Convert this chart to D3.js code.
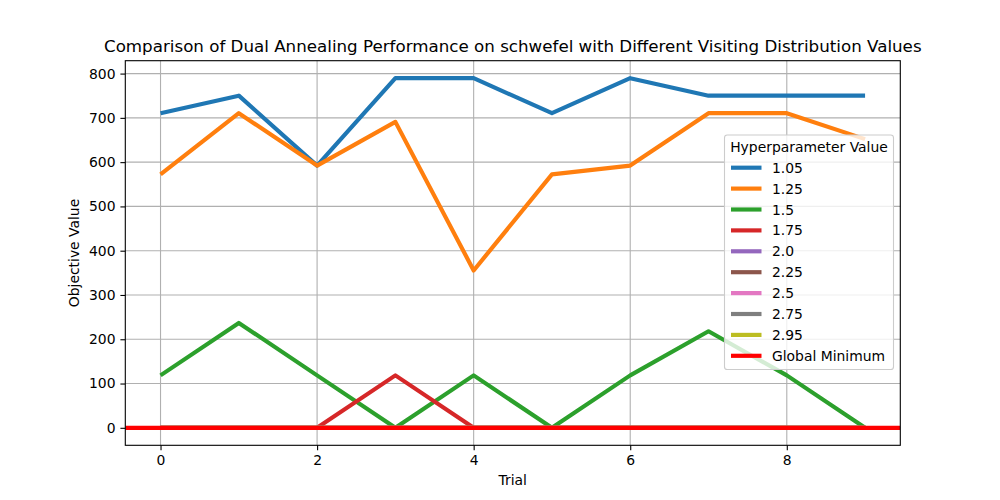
<!DOCTYPE html>
<html><head><meta charset="utf-8">
<script src="https://cdn.jsdelivr.net/npm/d3@7"></script>
<style>body{margin:0;background:#fff}svg{font-family:"DejaVu Sans",sans-serif}</style>
</head><body><svg id="c" width="1000" height="500"></svg>
<script>
const trials = [0,1,2,3,4,5,6,7,8,9];
const seriesNames = ["1.05","1.25","1.5","1.75","2.0","2.25","2.5","2.75","2.95"];
const colors = ["#1f77b4","#ff7f0e","#2ca02c","#d62728","#9467bd","#8c564b","#e377c2","#7f7f7f","#bcbd22"];
const v105 = [710.6,750.1,592.2,789.6,789.6,710.6,789.6,750.1,750.1,750.1];
const v125 = [572.4,710.6,592.2,691.0,355.3,572.4,592.2,710.6,710.6,652.0];
const v150 = [118.4,236.9,118.4,0,118.4,0,118.4,218.0,118.4,0];
const v175 = [0,0,0,118.4,0,0,0,0,0,0];
const v200 = [0,0,0,0,0,0,0,0,0,0];
const v225 = [0,0,0,0,0,0,0,0,0,0];
const v250 = [0,0,0,0,0,0,0,0,0,0];
const v275 = [0,0,0,0,0,0,0,0,0,0];
const v295 = [0,0,0,0,0,0,0,0,0,0];
const globalMin = 0;
const xTicks = [0,2,4,6,8];
const yTicks = [0,100,200,300,400,500,600,700,800];
const title = "Comparison of Dual Annealing Performance on schwefel with Different Visiting Distribution Values";
const legendTitle = "Hyperparameter Value";

const allSeries = [v105,v125,v150,v175,v200,v225,v250,v275,v295];
const svg = d3.select("#c");
const L=125.3, R=900.3, T=60.7, B=445.3;
const x = d3.scaleLinear().domain([-0.45,9.45]).range([L,R]);
const y = d3.scaleLinear().domain([-39.5,829.1]).range([B,T]);

svg.append("defs").append("clipPath").attr("id","clip").append("rect")
  .attr("x",L).attr("y",T).attr("width",R-L).attr("height",B-T);

// grid
const g = svg.append("g");
xTicks.forEach(t=>g.append("line").attr("x1",x(t)).attr("x2",x(t)).attr("y1",T).attr("y2",B)
  .attr("stroke","#b0b0b0").attr("stroke-width",1.1));
yTicks.forEach(t=>g.append("line").attr("x1",L).attr("x2",R).attr("y1",y(t)).attr("y2",y(t))
  .attr("stroke","#b0b0b0").attr("stroke-width",1.1));

// lines
const line = d3.line().x((d,i)=>x(trials[i])).y(d=>y(d));
const lg = svg.append("g").attr("clip-path","url(#clip)");
allSeries.forEach((s,i)=>{
  lg.append("path").datum(s).attr("d",line).attr("fill","none")
    .attr("stroke",colors[i]).attr("stroke-width",4.17).attr("stroke-linejoin","round").attr("stroke-linecap","butt");
});
lg.append("line").attr("x1",L).attr("x2",R).attr("y1",y(globalMin)).attr("y2",y(globalMin))
  .attr("stroke","#ff0000").attr("stroke-width",4.17);

// axes
const xa = svg.append("g").attr("transform",`translate(0,${B})`)
  .call(d3.axisBottom(x).tickValues(xTicks).tickSize(4.9).tickPadding(4.9).tickFormat(d3.format("d")));
const ya = svg.append("g").attr("transform",`translate(${L},0)`)
  .call(d3.axisLeft(y).tickValues(yTicks).tickSize(4.9).tickPadding(4.9).tickFormat(d3.format("d")));
[xa,ya].forEach(a=>{
  a.select(".domain").remove();
  a.selectAll("text").attr("font-size","13.9px").attr("fill","#000").attr("font-family","DejaVu Sans");
  a.selectAll("line").attr("stroke","#000").attr("stroke-width",1.1);
});
svg.append("rect").attr("x",L).attr("y",T).attr("width",R-L).attr("height",B-T)
  .attr("fill","none").attr("stroke","#000").attr("stroke-width",1.1);

// labels
svg.append("text").attr("x",(L+R)/2).attr("y",52).attr("text-anchor","middle")
  .attr("font-size","16.7px").text(title);
svg.append("text").attr("x",(L+R)/2).attr("y",485).attr("text-anchor","middle")
  .attr("font-size","13.9px").text("Trial");
svg.append("text").attr("transform",`translate(79,${(T+B)/2}) rotate(-90)`).attr("text-anchor","middle")
  .attr("font-size","13.9px").text("Objective Value");

// legend
const leg = svg.append("g");
leg.append("rect").attr("x",724.5).attr("y",135).attr("width",169).attr("height",234.5)
  .attr("rx",2.8).attr("fill","#fff").attr("fill-opacity",0.8).attr("stroke","#cccccc").attr("stroke-width",1.1);
leg.append("text").attr("x",809).attr("y",152).attr("text-anchor","middle").attr("font-size","13.9px").text(legendTitle);
const entries = seriesNames.map((n,i)=>({n,c:colors[i]})).concat([{n:"Global Minimum",c:"#ff0000"}]);
entries.forEach((e,i)=>{
  const cy = 167.7 + i*20.9;
  leg.append("line").attr("x1",731).attr("x2",761.5).attr("y1",cy).attr("y2",cy)
    .attr("stroke",e.c).attr("stroke-width",4.17);
  leg.append("text").attr("x",772).attr("y",cy+5).attr("font-size","13.9px").text(e.n);
});
</script></body></html>
